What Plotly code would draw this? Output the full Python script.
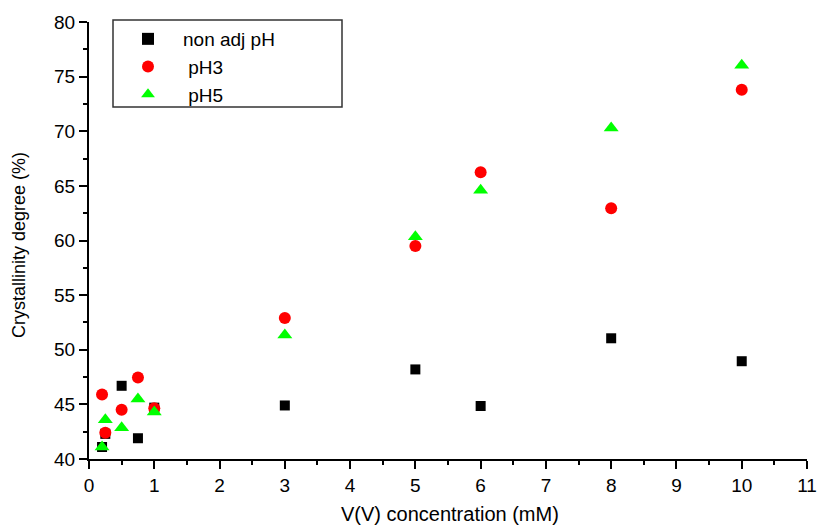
import plotly.graph_objects as go

conc = [0.2, 0.25, 0.5, 0.75, 1, 3, 5, 6, 8, 10]
non_adj = [41.1, 42.3, 46.7, 41.9, 44.7, 44.9, 48.2, 44.85, 51.05, 48.95]
ph3 = [45.9, 42.4, 44.5, 47.45, 44.65, 52.9, 59.5, 66.25, 62.95, 73.8]
ph5 = [41.1, 43.6, 42.85, 45.5, 44.3, 51.35, 60.35, 64.6, 70.3, 76.05]

names = ["non adj pH", "\u00a0pH3", "\u00a0pH5"]
x_title = "V(V) concentration (mM)"
y_title = "Crystallinity degree (%)"
FONT = "Liberation Sans, Arial, sans-serif"

W, H = 823, 525
L, R, T, B = 89, 16, 22, 66
PW, PH = W - L - R, H - T - B

def px_x(p):
    return (p - L) / PW

def px_y(p):
    return (H - B - p) / PH

fig = go.Figure()
fig.add_trace(go.Scatter(x=conc, y=non_adj, mode="markers", name=names[0],
                         marker=dict(symbol="square", size=10, color="black")))
fig.add_trace(go.Scatter(x=conc, y=ph3, mode="markers", name=names[1],
                         marker=dict(symbol="circle", size=12, color="#ff0000")))
fig.add_trace(go.Scatter(x=conc, y=ph5, mode="markers", name=names[2],
                         marker=dict(symbol="triangle-up", size=13, color="#00ff00")))

axis_common = dict(showgrid=False, zeroline=False, showline=True, linecolor="black",
                   linewidth=2, ticks="outside", ticklen=8, tickwidth=2, tickcolor="black",
                   automargin=False,
                   tickfont=dict(family=FONT, size=19, color="black"))

fig.update_xaxes(range=[0, 11], dtick=1, tick0=0,
                 minor=dict(dtick=0.5, ticks="outside", ticklen=4, tickwidth=2, tickcolor="black"),
                 **axis_common)
fig.update_yaxes(range=[40, 80], dtick=5, tick0=40,
                 minor=dict(dtick=2.5, ticks="outside", ticklen=4, tickwidth=2, tickcolor="black"),
                 **axis_common)

fig.add_annotation(text=x_title, xref="paper", yref="paper",
                   x=px_x(450), y=px_y(514), showarrow=False,
                   xanchor="center", yanchor="middle",
                   font=dict(family=FONT, size=20, color="black"))
fig.add_annotation(text=y_title, xref="paper", yref="paper",
                   x=px_x(19), y=px_y(245), showarrow=False, textangle=-90,
                   xanchor="center", yanchor="middle",
                   font=dict(family=FONT, size=18, color="black"))

fig.add_shape(type="rect", xref="paper", yref="paper",
              x0=px_x(113), x1=px_x(342), y0=px_y(107), y1=px_y(20),
              line=dict(color="#333333", width=1.5), fillcolor="rgba(0,0,0,0)")

fig.update_layout(
    width=W, height=H,
    margin=dict(l=L, r=R, t=T, b=B),
    plot_bgcolor="white", paper_bgcolor="white",
    showlegend=True,
    legend=dict(x=px_x(113), y=px_y(20), xanchor="left", yanchor="top",
                borderwidth=0, bgcolor="rgba(0,0,0,0)",
                font=dict(family=FONT, size=19, color="black"),
                itemwidth=60, tracegroupgap=0, itemsizing="constant"),
)

fig.write_html("out.html")
